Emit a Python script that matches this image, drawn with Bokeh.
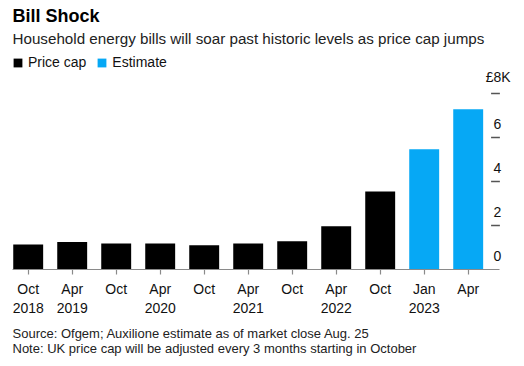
from bokeh.plotting import figure
from bokeh.models import (ColumnDataSource, FixedTicker, Label, LabelSet, Legend,
                          LegendItem, Range1d, LinearAxis)
from bokeh.core.properties import value
from bokeh.embed import file_html
from bokeh.resources import INLINE

# ---- data ----
periods = ["Oct\n2018", "Apr\n2019", "Oct", "Apr\n2020", "Oct", "Apr\n2021",
           "Oct", "Apr\n2022", "Oct", "Jan\n2023", "Apr"]
values_k = [1.14, 1.25, 1.18, 1.18, 1.10, 1.18, 1.28, 1.97, 3.55, 5.47, 7.28]
kinds = ["Price cap"] * 9 + ["Estimate"] * 2
y_ticks = [0, 2, 4, 6, 8]
y_tick_labels = ["0", "2", "4", "6", "8K"]
currency = "£"

title_text = "Bill Shock"
subtitle_text = "Household energy bills will soar past historic levels as price cap jumps"
source_text = "Source: Ofgem; Auxilione estimate as of market close Aug. 25"
note_text = "Note: UK price cap will be adjusted every 3 months starting in October"

BLACK = "#000000"
BLUE = "#06A8F5"
FONT = "Liberation Sans"
GREY = "#8a8a8a"

idx = list(range(len(periods)))
cap_src = ColumnDataSource(dict(x=[i for i, k in zip(idx, kinds) if k == "Price cap"],
                                top=[v for v, k in zip(values_k, kinds) if k == "Price cap"]))
est_src = ColumnDataSource(dict(x=[i for i, k in zip(idx, kinds) if k == "Estimate"],
                                top=[v for v, k in zip(values_k, kinds) if k == "Estimate"]))

W, H = 524, 366
PX_X = 44.0          # pixels per category step
PX_Y = 22.0          # pixels per £1K
X0_PX = 27.7         # screen x of first category centre
Y0_PX = 269.0        # screen y of the zero line
x_start, x_end = -X0_PX / PX_X, (W - X0_PX) / PX_X
y_start, y_end = -(H - Y0_PX) / PX_Y, Y0_PX / PX_Y

p = figure(width=W, height=H, output_backend="svg", toolbar_location=None,
           x_range=Range1d(x_start, x_end), y_range=Range1d(y_start, y_end),
           x_axis_location=None, y_axis_location=None,
           min_border=0, min_border_left=0, min_border_right=0,
           min_border_top=0, min_border_bottom=0)
p.title.visible = False
p.outline_line_color = None
p.grid.visible = False
p.background_fill_color = "white"
p.border_fill_color = "white"

r_cap = p.vbar(x="x", top="top", width=0.68, source=cap_src, fill_color=BLACK, line_color=None)
r_est = p.vbar(x="x", top="top", width=0.68, source=est_src, fill_color=BLUE, line_color=None)

# x axis fixed at the zero line
ax = LinearAxis(fixed_location=0)
ax.bounds = ((12 - X0_PX) / PX_X, (499 - X0_PX) / PX_X)
ax.ticker = FixedTicker(ticks=idx)
ax.major_label_overrides = {i: lab for i, lab in zip(idx, periods)}
ax.axis_line_color = GREY
ax.axis_line_width = 1.2
ax.major_tick_line_color = GREY
ax.major_tick_line_width = 1.2
ax.major_tick_out = 5
ax.major_tick_in = 0
ax.minor_tick_line_color = None
ax.major_label_text_font = FONT
ax.major_label_text_font_size = "14px"
ax.major_label_text_color = "#111111"
ax.major_label_standoff = 6
p.add_layout(ax, "below")

# right-side y tick dashes and labels (labels sit above the dashes)
last = idx[-1]
p.segment(x0=last + 0.52, x1=last + 0.72, y0="y", y1="y",
          source=ColumnDataSource(dict(y=y_ticks[1:])), line_color="#555555", line_width=1.5)
tick_src = ColumnDataSource(dict(y=y_ticks, lab=y_tick_labels))
p.add_layout(LabelSet(x=493, x_units="screen", y="y", text="lab", source=tick_src,
                      text_font=value(FONT), text_font_size=value("14px"),
                      text_color="#111111",
                      text_baseline="bottom", text_align="left", y_offset=9))
p.add_layout(Label(x=493, x_units="screen", y=y_ticks[-1], text=currency,
                   text_font=FONT, text_font_size="14px", text_color="#111111",
                   text_baseline="bottom", text_align="right", y_offset=9))

# legend
legend = Legend(items=[LegendItem(label="Price cap", renderers=[r_cap]),
                       LegendItem(label="Estimate", renderers=[r_est])],
                location=(12, 296), orientation="horizontal",
                glyph_width=11, glyph_height=11, label_standoff=5, spacing=10,
                padding=0, margin=0, border_line_color=None, background_fill_alpha=0,
                label_text_font=FONT, label_text_font_size="14px",
                label_text_color="#111111", label_height=14)
p.add_layout(legend)

# titles and footnotes (screen units from bottom-left)
p.add_layout(Label(x=12, y=H - 15, x_units="screen", y_units="screen",
                   text=title_text, text_font=FONT, text_font_size="18px",
                   text_font_style="bold", text_color="#000000", text_baseline="middle"))
p.add_layout(Label(x=12, y=H - 38, x_units="screen", y_units="screen",
                   text=subtitle_text, text_font=FONT, text_font_size="15.2px",
                   text_color="#222222", text_baseline="middle"))
p.add_layout(Label(x=12, y=H - 333, x_units="screen", y_units="screen",
                   text=source_text, text_font=FONT, text_font_size="13px",
                   text_color="#222222", text_baseline="middle"))
p.add_layout(Label(x=12, y=H - 347.5, x_units="screen", y_units="screen",
                   text=note_text, text_font=FONT, text_font_size="13px",
                   text_color="#222222", text_baseline="middle"))

open("out.html", "w").write(file_html(p, INLINE))
